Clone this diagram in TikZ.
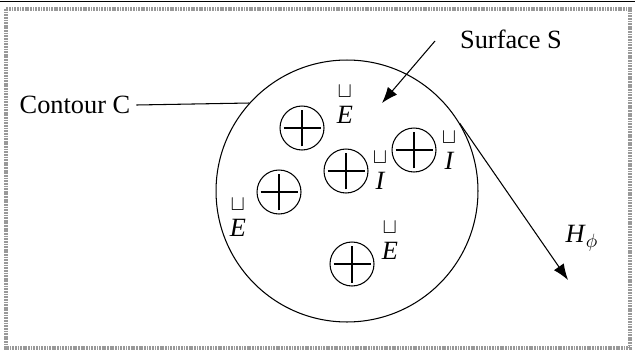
\documentclass[tikz,border=0pt]{standalone}
\usepackage{amsmath}
\usepackage{graphicx}
\usepackage{fontspec}
\setmainfont{Liberation Serif}
\usetikzlibrary{arrows.meta,positioning}
\newcommand{\cupvec}[1]{$\overset{\scalebox{0.85}{$\sqcup$}}{\text{\itshape\rule{0pt}{0.78em}#1}}$}

\begin{document}
\begin{tikzpicture}[x=0.02cm, y=-0.02cm, font=\fontsize{15}{18}\selectfont,
  charge/.style={draw, circle, line width=0.6pt, minimum size=0.88cm, inner sep=0pt,
    path picture={\draw[line width=0.6pt] ([xshift=-0.37cm]path picture bounding box.center) -- ([xshift=0.37cm]path picture bounding box.center);
      \draw[line width=0.6pt] ([yshift=-0.37cm]path picture bounding box.center) -- ([yshift=0.37cm]path picture bounding box.center);}},
  arr/.style={-{Latex[length=3.2mm,width=2.4mm]}, line width=0.6pt},
  sym/.style={inner sep=0pt}]
\useasboundingbox (0,0) rectangle (635,355);
% frame
\draw[gray!80, line width=2pt, dash pattern=on 1pt off 0.5pt] (6,9) rectangle (630,348);
\draw[line width=1pt] (0,1.5) -- (635,1.5);

% contour and surface
\node[draw, circle, line width=0.6pt, minimum size=5.24cm] (contour) at (347,191) {};
\node (surf) at (511,39) {Surface S};
\node (cont) at (75,105) {Contour C};
\coordinate (spot) at (382,103);
\coordinate (surftail) at (435,41);
\coordinate (hend) at (568,280);
\node (hphi) at (582,238) {\textit{H}$_\phi$};

% currents
\node[charge] (c1) at (302,128) {};
\node[charge] (c2) at (346,171) {};
\node[charge] (c3) at (414,150) {};
\node[charge] (c4) at (279,192) {};
\node[charge] (c5) at (352,264) {};

% field labels
\node[sym] (e1) at (345,103) {\cupvec{E}};
\node[sym] (i1) at (380,169) {\cupvec{I}};
\node[sym] (i2) at (449,149) {\cupvec{I}};
\node[sym] (e2) at (238,216) {\cupvec{E}};
\node[sym] (e3) at (390,239) {\cupvec{E}};

% connectors
\draw[line width=0.6pt] (cont.east) -- (contour.138);
\draw[arr] (surftail) -- (spot);
\draw[arr] (contour.31) -- (hend);
\end{tikzpicture}
\end{document}
